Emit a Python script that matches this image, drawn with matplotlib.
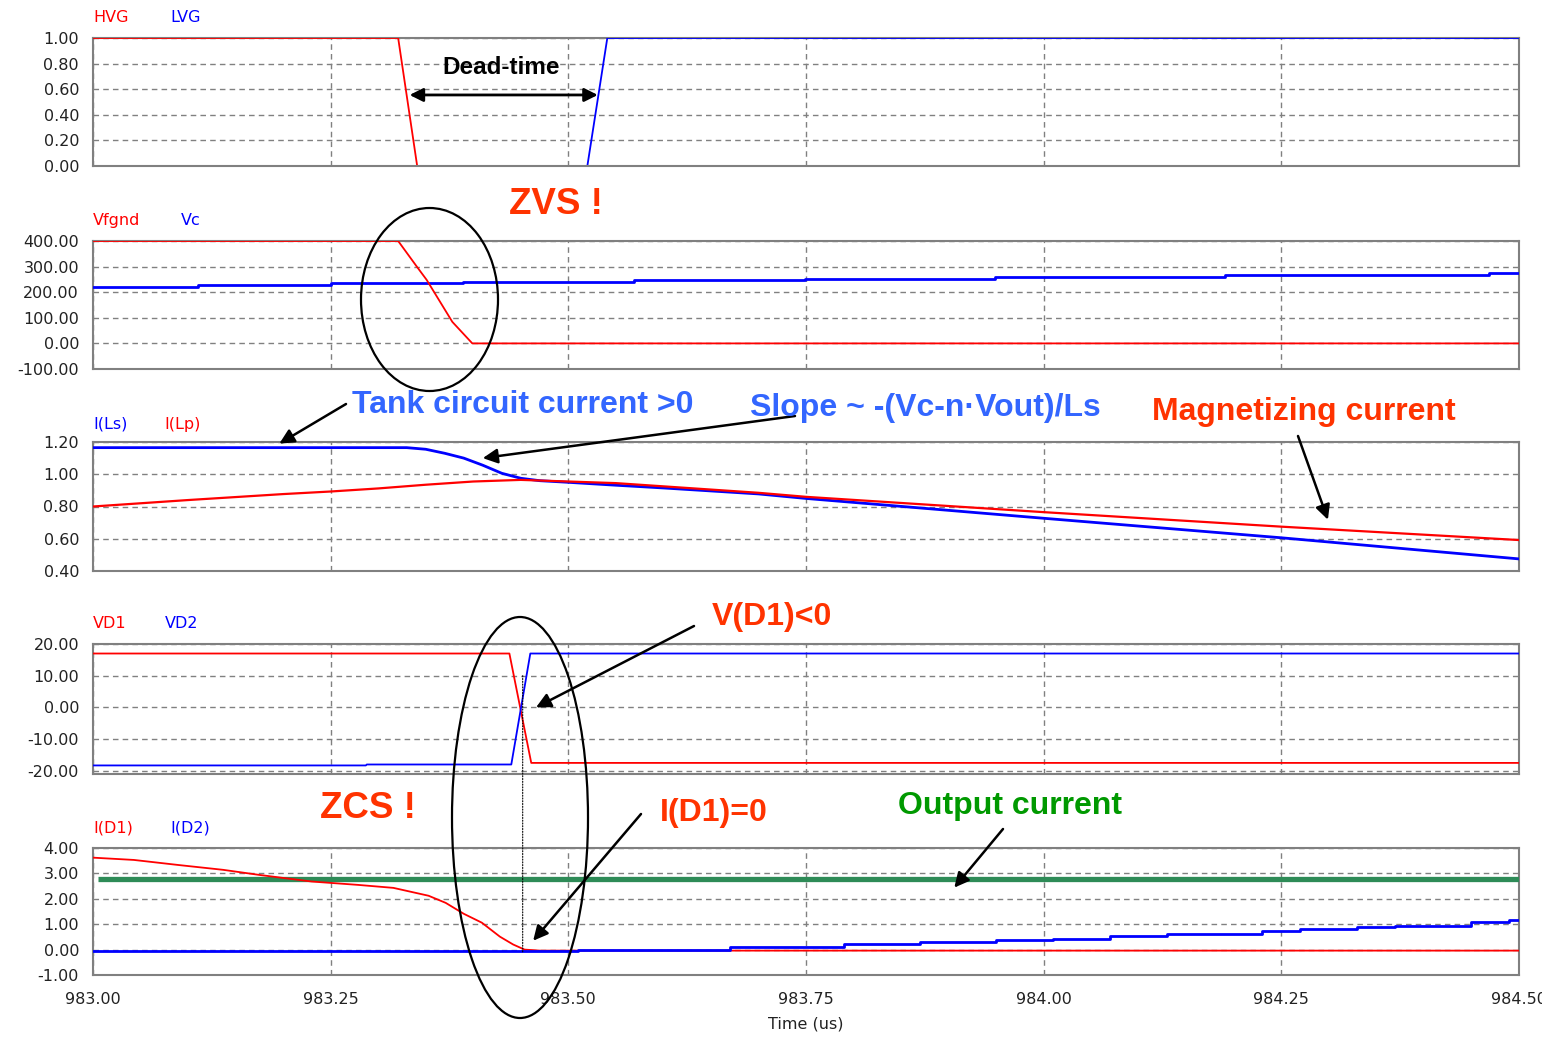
import numpy as np
import matplotlib
matplotlib.use("Agg")
import matplotlib.pyplot as plt
from matplotlib.patches import Ellipse, ConnectionPatch
from matplotlib.ticker import FuncFormatter

# ---- data (time in us) ----
xticks = [983.00, 983.25, 983.50, 983.75, 984.00, 984.25, 984.50]

# gate signals
hvg_t = [983.000, 983.321, 983.341, 984.500]
hvg_v = [1.0, 1.0, 0.0, 0.0]
lvg_t = [983.000, 983.520, 983.541, 984.500]
lvg_v = [0.0, 0.0, 1.0, 1.0]

# half bridge node and resonant cap voltage
vfgnd_t = [983.000, 983.321, 983.341, 983.351, 983.378, 983.399, 984.500]
vfgnd_v = [400, 400, 298, 248, 84, 0, 0]
vc_t = [983.000, 983.110, 983.250, 983.389, 983.569, 983.749, 983.949, 984.191, 984.468, 984.500]
vc_v = [221, 227, 234, 240, 246, 252, 259, 266, 274, 274]

# tank and magnetizing currents
ils_t = [983.00, 983.33, 983.35, 983.37, 983.39, 983.41, 983.43, 983.45, 983.47, 983.50,
         983.55, 983.60, 983.70, 983.75, 984.00, 984.25, 984.50]
ils_v = [1.165, 1.165, 1.155, 1.13, 1.10, 1.056, 1.006, 0.975, 0.960, 0.950,
         0.932, 0.915, 0.878, 0.850, 0.727, 0.606, 0.475]
ilp_t = [983.00, 983.10, 983.20, 983.25, 983.30, 983.35, 983.40, 983.45, 983.50, 983.55,
         983.60, 983.70, 983.75, 984.00, 984.25, 984.50]
ilp_v = [0.800, 0.840, 0.877, 0.893, 0.912, 0.935, 0.955, 0.965, 0.955, 0.945,
         0.925, 0.885, 0.860, 0.765, 0.675, 0.592]

# rectifier diode voltages
vd1_t = [983.000, 983.438, 983.461, 984.500]
vd1_v = [17.0, 17.0, -17.5, -17.5]
vd2_t = [983.000, 983.287, 983.288, 983.440, 983.460, 984.500]
vd2_v = [-18.3, -18.3, -18.0, -18.0, 17.0, 17.0]

# rectifier diode currents
id1_t = [983.000, 983.043, 983.090, 983.137, 983.175, 983.230, 983.278, 983.316, 983.353,
         983.371, 983.390, 983.409, 983.428, 983.442, 983.454, 983.470, 984.500]
id1_v = [3.62, 3.53, 3.33, 3.14, 2.94, 2.68, 2.55, 2.43, 2.12,
         1.84, 1.41, 1.06, 0.51, 0.20, 0.0, -0.04, -0.04]
id2_t = [983.00, 983.51, 983.67, 983.79, 983.87, 983.95, 984.01, 984.07, 984.13,
         984.23, 984.27, 984.33, 984.37, 984.45, 984.49, 984.50]
id2_v = [-0.06, 0.0, 0.10, 0.21, 0.30, 0.36, 0.43, 0.52, 0.62,
         0.72, 0.81, 0.88, 0.94, 1.07, 1.17, 1.17]
iout_t = [983.005, 984.500]
iout_v = [2.78, 2.78]

W, H = 1542, 1037
RED = "#ff0000"
BLUE = "#0000ff"
NOTE_RED = "#ff3300"
NOTE_BLUE = "#3366ff"
NOTE_GREEN = "#009900"
GRID = "#808080"


def fp(x, y):
    # pixel position in the picture -> figure fraction
    return (x / W, 1 - y / H)


fig = plt.figure(figsize=(W / 100, H / 100), dpi=100)
fig.patch.set_facecolor("white")

boxes = [(38, 166), (241, 369), (442, 571), (644, 774), (848, 975)]
yranges = [((0, 1), np.arange(0, 1.01, 0.2)),
           ((-100, 400), np.arange(-100, 401, 100)),
           ((0.4, 1.2), np.arange(0.4, 1.21, 0.2)),
           ((-21.0, 20), np.arange(-20, 21, 10)),
           ((-1, 4), np.arange(-1, 4.1, 1))]
left, right = 93, 1519

axes = []
for (top, bot), (ylim, yt) in zip(boxes, yranges):
    ax = fig.add_axes([left / W, 1 - bot / H, (right - left) / W, (bot - top) / H])
    ax.set_xlim(983.0, 984.5)
    ax.set_ylim(*ylim)
    ax.set_xticks(xticks)
    ax.set_yticks(yt)
    ax.yaxis.set_major_formatter(FuncFormatter(lambda v, p: f"{v:.2f}"))
    ax.xaxis.set_major_formatter(FuncFormatter(lambda v, p: f"{v:.2f}"))
    ax.grid(True, color=GRID, linestyle=(0, (4, 3)), lw=1)
    ax.tick_params(length=0, labelsize=11.5, labelcolor="#222222", pad=10)
    ax.tick_params(axis="x", pad=12)
    for s in ax.spines.values():
        s.set_color(GRID)
        s.set_linewidth(1.5)
    ax.spines["bottom"].set_zorder(5)
    axes.append(ax)

for ax in axes[:-1]:
    ax.tick_params(labelbottom=False)

ax1, ax2, ax3, ax4, ax5 = axes

ax1.plot(hvg_t, hvg_v, color=RED, lw=1.3, zorder=3)
ax1.plot(lvg_t, lvg_v, color=BLUE, lw=1.3, zorder=3)

ax2.plot(vc_t, vc_v, color=BLUE, lw=2.0, drawstyle="steps-post", zorder=3)
ax2.plot(vfgnd_t, vfgnd_v, color=RED, lw=1.3, zorder=3)

ax3.plot(ils_t, ils_v, color=BLUE, lw=2.0, zorder=3)
ax3.plot(ilp_t, ilp_v, color=RED, lw=1.6, zorder=3)

ax4.plot(vd1_t, vd1_v, color=RED, lw=1.3, zorder=3)
ax4.plot(vd2_t, vd2_v, color=BLUE, lw=1.3, zorder=3)

ax5.plot(iout_t, iout_v, color="#2e8b57", lw=3.8, zorder=3, solid_capstyle="butt")
ax5.plot(id1_t, id1_v, color=RED, lw=1.3, zorder=3)
ax5.plot(id2_t, id2_v, color=BLUE, lw=2.0, drawstyle="steps-post", zorder=3)

ax5.set_xlabel("Time (us)", fontsize=11.5, color="#222222", labelpad=7)

# trace names above each panel
names = [(ax1, "HVG", RED, "LVG", BLUE, 77, 21),
         (ax2, "Vfgnd", RED, "Vc", BLUE, 88, 20),
         (ax3, "I(Ls)", BLUE, "I(Lp)", RED, 71, 18),
         (ax4, "VD1", RED, "VD2", BLUE, 72, 21),
         (ax5, "I(D1)", RED, "I(D2)", BLUE, 77, 20)]
for ax, n1, c1, n2, c2, dx, dy in names:
    ax.annotate(n1, xy=(0, 1), xycoords="axes fraction", xytext=(0, dy),
                textcoords="offset pixels", va="center", ha="left", color=c1, fontsize=11.5)
    ax.annotate(n2, xy=(0, 1), xycoords="axes fraction", xytext=(dx, dy),
                textcoords="offset pixels", va="center", ha="left", color=c2, fontsize=11.5)

# ---- annotations ----
bold = dict(family="Liberation Sans", weight="bold")
arrow = dict(arrowstyle="-|>", color="black", lw=1.8, mutation_scale=22, shrinkA=0, shrinkB=0)

ax1.annotate("", xy=(983.333, 0.555), xytext=(983.531, 0.555),
             arrowprops=dict(arrowstyle="<|-|>", color="black", lw=2, mutation_scale=20,
                             shrinkA=0, shrinkB=0))
fig.text(*fp(501, 67), "Dead-time", ha="center", va="center", fontsize=17.5, color="black", **bold)

fig.text(*fp(556, 204), "ZVS !", ha="center", va="center", fontsize=26.5, color=NOTE_RED, **bold)
fig.text(*fp(352, 405), "Tank circuit current >0", ha="left", va="center", fontsize=23,
         color=NOTE_BLUE, **bold)
fig.text(*fp(750, 408), "Slope ~ -(Vc-n\u00b7Vout)/Ls", ha="left", va="center", fontsize=23,
         color=NOTE_BLUE, **bold)
fig.text(*fp(1152, 412), "Magnetizing current", ha="left", va="center", fontsize=23,
         color=NOTE_RED, **bold)
fig.text(*fp(712, 617), "V(D1)<0", ha="left", va="center", fontsize=23, color=NOTE_RED, **bold)
fig.text(*fp(320, 808), "ZCS !", ha="left", va="center", fontsize=26.5, color=NOTE_RED, **bold)
fig.text(*fp(660, 813), "I(D1)=0", ha="left", va="center", fontsize=23, color=NOTE_RED, **bold)
fig.text(*fp(898, 806), "Output current", ha="left", va="center", fontsize=23,
         color=NOTE_GREEN, **bold)

ax3.annotate("", xy=(983.196, 1.19), xycoords="data", xytext=fp(346, 404),
             textcoords="figure fraction", arrowprops=arrow, annotation_clip=False)
ax3.annotate("", xy=(983.410, 1.10), xycoords="data", xytext=fp(795, 416),
             textcoords="figure fraction", arrowprops=arrow, annotation_clip=False)
ax3.annotate("", xy=(984.299, 0.718), xycoords="data", xytext=fp(1298, 436),
             textcoords="figure fraction", arrowprops=arrow, annotation_clip=False)
ax4.annotate("", xy=(983.466, 0.0), xycoords="data", xytext=fp(694, 626),
             textcoords="figure fraction", arrowprops=arrow, annotation_clip=False)
ax5.annotate("", xy=(983.463, 0.35), xycoords="data", xytext=fp(641, 814),
             textcoords="figure fraction", arrowprops=arrow, annotation_clip=False)
ax5.annotate("", xy=(983.906, 2.44), xycoords="data", xytext=fp(1003, 829),
             textcoords="figure fraction", arrowprops=arrow, annotation_clip=False)

# ellipses around the ZVS and ZCS transitions
for cx, cy, w, h in [(429.5, 299.5, 137, 183), (520, 817.5, 136, 401)]:
    fig.add_artist(Ellipse(fp(cx, cy), w / W, h / H, transform=fig.transFigure,
                           fill=False, edgecolor="black", lw=1.6, zorder=10))

# dotted marker linking the diode voltage crossing to the diode current zero
con = ConnectionPatch(xyA=(983.452, 10), coordsA=ax4.transData,
                      xyB=(983.452, -0.15), coordsB=ax5.transData,
                      color="black", lw=0.8, linestyle=(0, (1, 1.5)), zorder=9)
fig.add_artist(con)

fig.savefig("out.png", dpi=100, facecolor="white")
